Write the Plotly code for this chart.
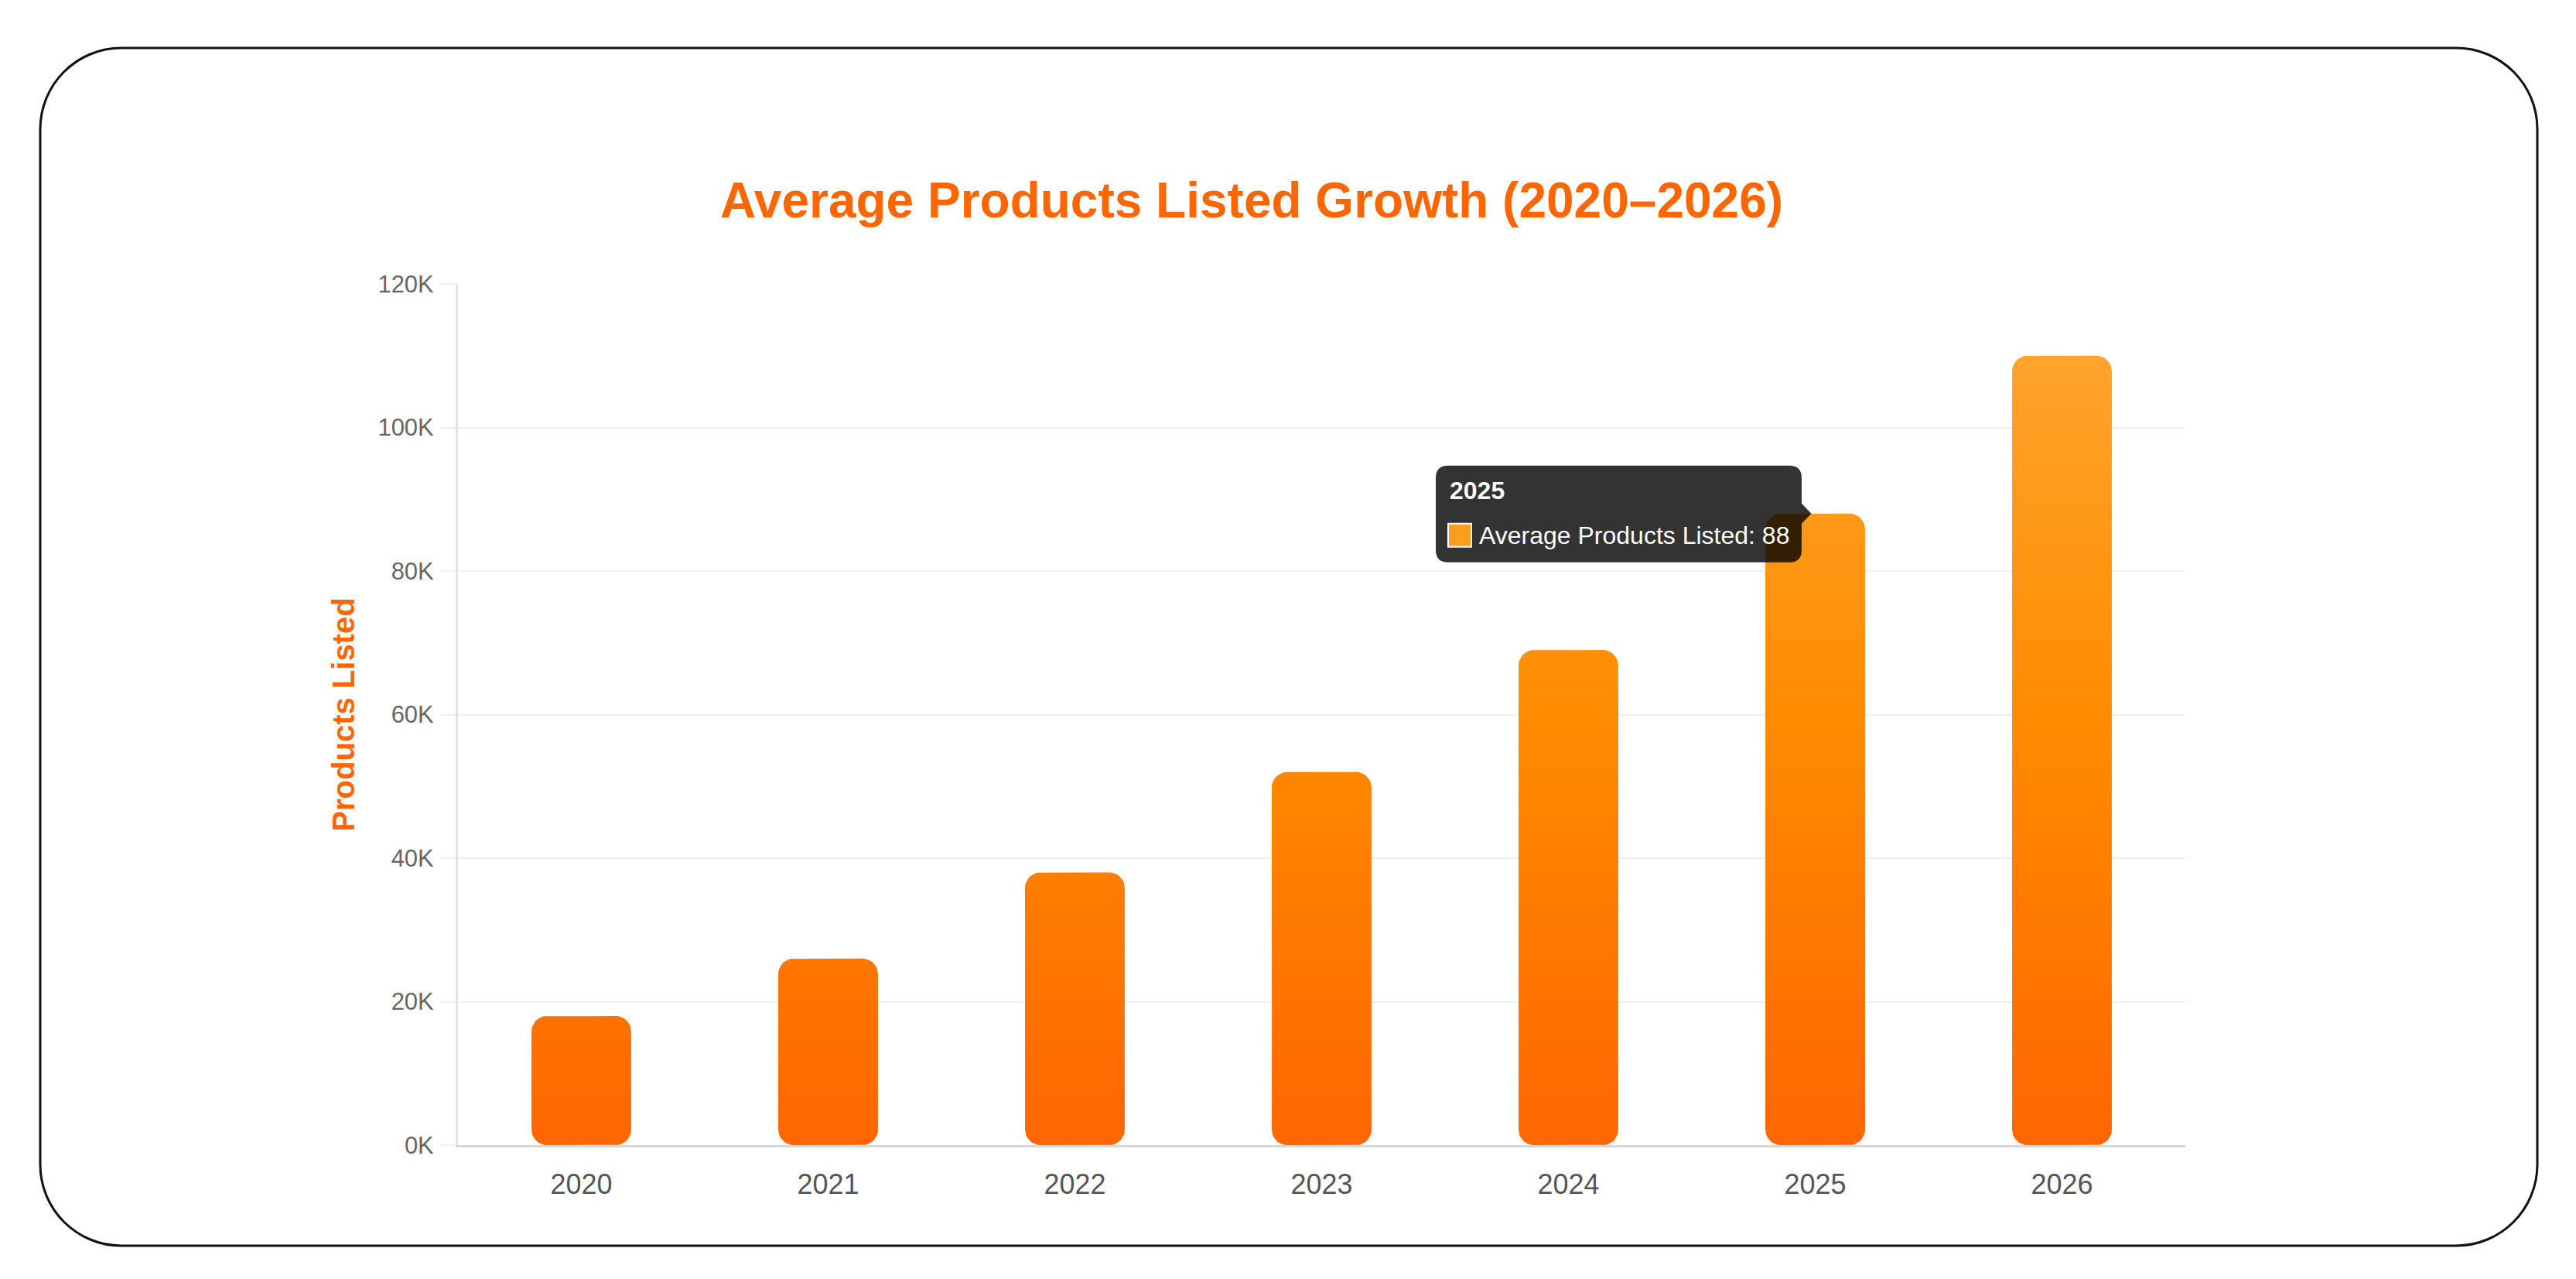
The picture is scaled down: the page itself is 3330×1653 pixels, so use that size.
import numpy as np
import plotly.graph_objects as go

# ---------------- data ----------------
years = ["2020", "2021", "2022", "2023", "2024", "2025", "2026"]
values = [18, 26, 38, 52, 69, 88, 110]          # thousands of products
y_tick_vals = [0, 20, 40, 60, 80, 100, 120]
y_tick_text = ["0K", "20K", "40K", "60K", "80K", "100K", "120K"]
series_name = "Average Products Listed"
highlight = 5                                   # 2025 (tooltip shown)

# ---------------- layout geometry ----------------
W, H = 3330, 1653
ML, MR, MT, MB = 592, 505, 367, 173
PW, PH = W - ML - MR, H - MT - MB
X_RANGE = [-0.5, len(years) - 0.5]
Y_RANGE = [0, 120]
px_x = PW / (X_RANGE[1] - X_RANGE[0])
px_y = PH / (Y_RANGE[1] - Y_RANGE[0])
BAR_W = 0.404
RADIUS_PX = 20
FONT = "Liberation Sans, Arial, Helvetica, sans-serif"

grad = [[0, "#FF6600"], [0.5, "#FF8C00"], [1, "#FFA834"]]


def rounded_bar(cx, top, n=10):
    x0, x1 = cx - BAR_W / 2, cx + BAR_W / 2
    rx = min(RADIUS_PX / px_x, BAR_W / 2)
    ry = min(RADIUS_PX / px_y, top / 2)
    corners = [
        (x1 - rx, top - ry, 0, 90),
        (x0 + rx, top - ry, 90, 180),
        (x0 + rx, ry, 180, 270),
        (x1 - rx, ry, 270, 360),
    ]
    xs, ys = [], []
    for ccx, ccy, a0, a1 in corners:
        for a in np.linspace(np.radians(a0), np.radians(a1), n):
            xs.append(ccx + rx * np.cos(a))
            ys.append(ccy + ry * np.sin(a))
    xs.append(xs[0])
    ys.append(ys[0])
    return xs, ys


fig = go.Figure()
for i, (yr, v) in enumerate(zip(years, values)):
    xs, ys = rounded_bar(i, v)
    fig.add_trace(go.Scatter(
        x=xs, y=ys, mode="lines", line=dict(width=0),
        fill="toself",
        fillgradient=dict(type="vertical", colorscale=grad,
                          start=Y_RANGE[0], stop=Y_RANGE[1]),
        hoveron="fills", hoverinfo="text",
        text=f"{yr}<br>{series_name}: {v}",
        name=yr, showlegend=False,
    ))

shapes = []

# card border (rounded rectangle), pixel offsets from plot bottom-left
cl, cr = 52 - ML, 3280 - ML
ct, cb = (H - MB) - 62, (H - MB) - 1610
R = 105
k = 0.5523 * R
card = (f"M {cl+R},{ct} L {cr-R},{ct} "
        f"C {cr-R+k},{ct} {cr},{ct-R+k} {cr},{ct-R} "
        f"L {cr},{cb+R} "
        f"C {cr},{cb+R-k} {cr-R+k},{cb} {cr-R},{cb} "
        f"L {cl+R},{cb} "
        f"C {cl+R-k},{cb} {cl},{cb+R-k} {cl},{cb+R} "
        f"L {cl},{ct-R} "
        f"C {cl},{ct-R+k} {cl+R-k},{ct} {cl+R},{ct} Z")
shapes.append(dict(type="path", xref="paper", yref="paper",
                   xsizemode="pixel", ysizemode="pixel", xanchor=0, yanchor=0,
                   path=card, line=dict(color="#111111", width=3),
                   fillcolor="rgba(0,0,0,0)", layer="below"))

# tooltip box with caret, anchored at the top of the highlighted bar
L_, R_, T_, B_, r = -490.5, -17.5, 62, -63, 16
tip = (f"M {L_+r},{T_} L {R_-r},{T_} Q {R_},{T_} {R_},{T_-r} "
       f"L {R_},13 L -5,0 L {R_},-13 "
       f"L {R_},{B_+r} Q {R_},{B_} {R_-r},{B_} "
       f"L {L_+r},{B_} Q {L_},{B_} {L_},{B_+r} "
       f"L {L_},{T_-r} Q {L_},{T_} {L_+r},{T_} Z")
shapes.append(dict(type="path", xref="x", yref="y",
                   xsizemode="pixel", ysizemode="pixel",
                   xanchor=highlight, yanchor=values[highlight],
                   path=tip, line=dict(width=0),
                   fillcolor="rgba(0,0,0,0.8)", layer="above"))
shapes.append(dict(type="rect", xref="x", yref="y",
                   xsizemode="pixel", ysizemode="pixel",
                   xanchor=highlight, yanchor=values[highlight],
                   x0=-474.5, x1=-444.5, y0=-13, y1=-43,
                   fillcolor="#FF9D1E", line=dict(color="#FFFFFF", width=2),
                   layer="above"))

annotations = [
    dict(x=highlight, y=values[highlight], xref="x", yref="y",
         text=f"<b>{years[highlight]}</b>", showarrow=False,
         xanchor="left", yanchor="middle", xshift=-474.5, yshift=30,
         font=dict(family=FONT, size=32, color="#FFFFFF")),
    dict(x=highlight, y=values[highlight], xref="x", yref="y",
         text=f"{series_name}: {values[highlight]}", showarrow=False,
         xanchor="left", yanchor="middle", xshift=-437, yshift=-28,
         font=dict(family=FONT, size=32, color="#FFFFFF")),
]

fig.update_layout(
    width=W, height=H,
    margin=dict(l=ML, r=MR, t=MT, b=MB, autoexpand=False),
    paper_bgcolor="#FFFFFF", plot_bgcolor="#FFFFFF",
    font=dict(family=FONT),
    title=dict(text="Average Products Listed Growth (2020–2026)",
               xref="container", yref="container",
               x=1618 / W, y=1 - 259 / H, xanchor="center", yanchor="middle",
               font=dict(family=FONT, size=64, color="#FF6600", weight="bold")),
    showlegend=False,
    hovermode="closest",
    shapes=shapes,
    annotations=annotations,
    xaxis=dict(range=X_RANGE, tickmode="array",
               tickvals=list(range(len(years))), ticktext=years,
               showgrid=False, zeroline=False,
               showline=True, linecolor="#D6D6D6", linewidth=3,
               ticks="", ticklabelstandoff=17,
               tickfont=dict(family=FONT, size=36, color="#555555"),
               fixedrange=True),
    yaxis=dict(range=Y_RANGE, tickmode="array",
               tickvals=y_tick_vals, ticktext=y_tick_text,
               showgrid=True, gridcolor="#F0F0F0", gridwidth=2,
               zeroline=False,
               showline=True, linecolor="#E3E3E3", linewidth=3,
               ticks="outside", ticklen=19, tickcolor="#F0F0F0", tickwidth=2,
               ticklabelstandoff=3,
               tickfont=dict(family=FONT, size=31, color="#666666"),
               title=dict(text="Products Listed", standoff=18,
                          font=dict(family=FONT, size=40, color="#FF6600",
                                    weight="bold")),
               fixedrange=True),
)

fig.write_html("out.html")
